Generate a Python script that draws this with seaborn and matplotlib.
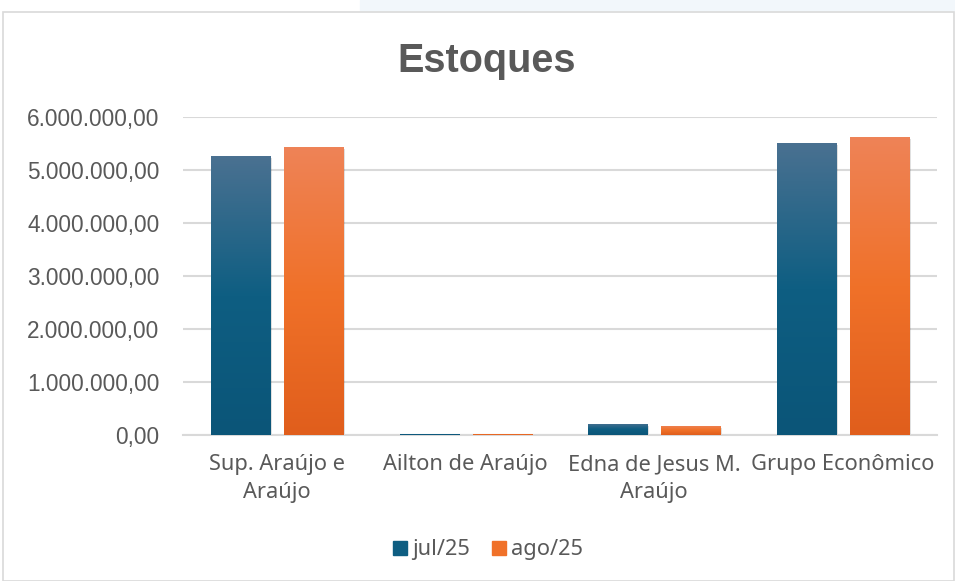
import numpy as np
import pandas as pd
import matplotlib
matplotlib.use("Agg")
import matplotlib.pyplot as plt
import matplotlib.patches as mpatches
from matplotlib.colors import LinearSegmentedColormap
from matplotlib.ticker import FuncFormatter
import seaborn as sns

categories = ["Sup. Araújo e\nAraújo", "Ailton de Araújo", "Edna de Jesus M.\nAraújo", "Grupo Econômico"]
series_names = ["jul/25", "ago/25"]
jul_values = [5260000, 20000, 210000, 5510000]
ago_values = [5430000, 20000, 170000, 5620000]

df = pd.DataFrame({
    "Empresa": categories * 2,
    "Mês": [series_names[0]] * 4 + [series_names[1]] * 4,
    "Valor": jul_values + ago_values,
})

sns.set_theme(style="white")
plt.rcParams['font.family'] = ['Liberation Sans', 'DejaVu Sans']
text_color = "#595959"
cat_font = ['Noto Sans', 'DejaVu Sans']

fig = plt.figure(figsize=(9.55, 5.81), dpi=100)
# background decorations
fig.patches.append(mpatches.Rectangle((360/955, 1 - 10/581), 595/955, 10/581,
                                      transform=fig.transFigure, color="#f2f7fb", zorder=-2))
fig.patches.append(mpatches.Rectangle((3/955, 0), 951/955, 1 - 12/581, transform=fig.transFigure,
                                      facecolor="white", edgecolor="#d9d9d9", lw=1.2, zorder=-1))

ax = fig.add_axes([183/955, 1 - 435/581, (937 - 183)/955, (435 - 117)/581])
ax.set_zorder(2)
ax.set_facecolor("none")

palette = {"jul/25": "#0e5e82", "ago/25": "#f07129"}
sns.barplot(data=df, x="Empresa", y="Valor", hue="Mês", palette=palette, width=0.774, gap=0.19,
            ax=ax, legend=False, zorder=3, edgecolor="none")

ax.set_ylim(0, 6000000)
ax.set_yticks(np.arange(0, 6000001, 1000000))
ax.yaxis.set_major_formatter(FuncFormatter(
    lambda v, p: f"{v:,.2f}".replace(",", "X").replace(".", ",").replace("X", ".")))
ax.grid(axis="y", color="#d9d9d9", lw=1.5, zorder=0)
ax.set_axisbelow(True)
for s in ["top", "right", "left"]:
    ax.spines[s].set_visible(False)
ax.spines["bottom"].set_color("#d9d9d9")
ax.spines["bottom"].set_linewidth(1.5)
ax.set_xlabel("")
ax.set_ylabel("")
ax.tick_params(axis="both", length=0, labelcolor=text_color)
ax.tick_params(axis="y", pad=17, labelsize=16.3)
ax.tick_params(axis="x", pad=14)
for lab in ax.get_xticklabels():
    lab.set_fontfamily(cat_font)
    lab.set_fontsize(15.7)
    lab.set_linespacing(1.4)

# gradient fill for bars
cmaps = [
    LinearSegmentedColormap.from_list("b", ["#0b5578", "#0e5e82", "#4a7191"]),
    LinearSegmentedColormap.from_list("o", ["#e05e1c", "#f07129", "#ee8357"]),
]
grad = np.linspace(0, 1, 256).reshape(-1, 1)
for i, cont in enumerate(ax.containers):
    for bar in cont:
        x0, y0 = bar.get_x(), bar.get_y()
        w, h = bar.get_width(), bar.get_height()
        # shadow
        sh = mpatches.Rectangle((x0 + 0.01, y0 - 40000), w, h, facecolor="#000000",
                                alpha=0.12, zorder=2, lw=0)
        ax.add_patch(sh)
        im = ax.imshow(grad, extent=[x0, x0 + w, y0, y0 + h], origin="lower",
                       cmap=cmaps[i], aspect="auto", zorder=4)
        im.set_clip_path(bar)
ax.set_xlim(-0.5, 3.5)
ax.set_ylim(0, 6000000)

fig.text(487/955, 1 - 61/581, "Estoques", ha="center", va="center",
         fontsize=28.5, fontweight="bold", color=text_color)

handles = [mpatches.Patch(color=palette[n], label=n) for n in series_names]
fig.legend(handles=handles, loc="center", bbox_to_anchor=(488/955, 1 - 550/581), ncol=2,
           frameon=False, prop={"family": cat_font, "size": 15.7}, labelcolor=text_color,
           handlelength=0.65, handleheight=0.65, handletextpad=0.25, columnspacing=1.0)

fig.savefig("out.png", dpi=100)
